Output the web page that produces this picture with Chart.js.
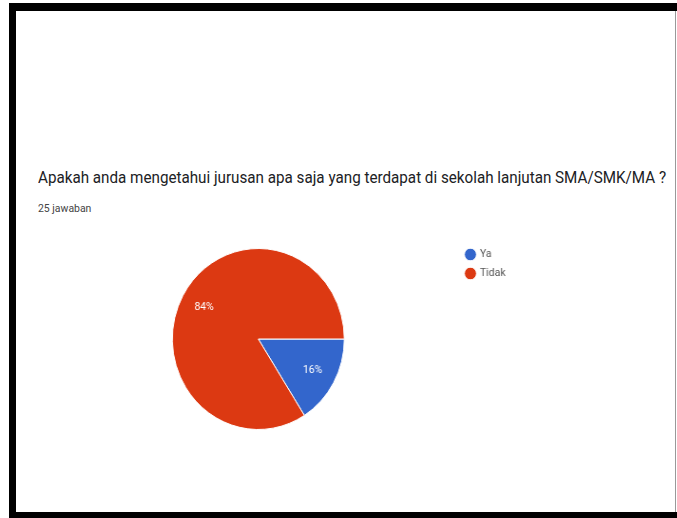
<!DOCTYPE html>
<html>
<head>
<meta charset="utf-8">
<script src="https://cdn.jsdelivr.net/npm/chart.js@4"></script>
<style>
  body { margin: 0; background: #fff; width: 677px; height: 518px; position: relative; overflow: hidden; font-family: Roboto, sans-serif; }
  .bar { position: absolute; background: #000; }
  .narrow { transform: scaleX(0.95); transform-origin: 0 0; }
  #title { position: absolute; left: 38px; top: 168px; font-size: 16px; color: #202124; white-space: nowrap; }
  #sub { position: absolute; left: 38px; top: 202px; font-size: 11px; color: #444; }
  #wrap { position: absolute; left: 60px; top: 248px; width: 477px; height: 182px; }
</style>
</head>
<body>
<div class="bar" style="left:9px;top:3px;width:668px;height:8px"></div>
<div class="bar" style="left:9px;top:3px;width:7px;height:515px"></div>
<div class="bar" style="left:9px;top:512px;width:668px;height:6px"></div>
<div class="bar" style="left:675px;top:11px;width:1px;height:501px;background:#999"></div>

<div id="title" class="narrow">Apakah anda mengetahui jurusan apa saja yang terdapat di sekolah lanjutan SMA/SMK/MA ?</div>
<div id="sub" class="narrow">25 jawaban</div>
<div id="wrap" class="narrow"><canvas id="pie"></canvas></div>

<script>
const labels = ['Ya', 'Tidak'];
const counts = [4, 21];
const colors = ['#3366cc', '#dc3912'];

// percentage text inside each slice
const sliceLabels = {
  id: 'sliceLabels',
  afterDatasetsDraw(chart) {
    const ctx = chart.ctx;
    const total = counts.reduce((a, b) => a + b, 0);
    chart.getDatasetMeta(0).data.forEach((arc, i) => {
      const p = arc.getProps(['x', 'y', 'startAngle', 'endAngle', 'outerRadius']);
      const mid = (p.startAngle + p.endAngle) / 2;
      const r = p.outerRadius * 0.72;
      ctx.save();
      ctx.fillStyle = '#fff';
      ctx.font = '11px Roboto';
      ctx.textAlign = 'center';
      ctx.textBaseline = 'middle';
      ctx.fillText(Math.round(counts[i] / total * 100) + '%', p.x + Math.cos(mid) * r, p.y + Math.sin(mid) * r);
      ctx.restore();
    });
  }
};

// pull the legend up a little so it sits level with the top of the pie
const legendNudge = {
  id: 'legendNudge',
  afterLayout(chart) {
    chart.legend.top -= 7;
    chart.legend.bottom -= 7;
    chart.legend.left += 2;
    chart.legend.right += 2;
  }
};

new Chart(document.getElementById('pie'), {
  type: 'pie',
  data: {
    labels: labels,
    datasets: [{
      data: counts,
      backgroundColor: colors,
      borderColor: '#fff',
      borderWidth: 1
    }]
  },
  options: {
    responsive: true,
    maintainAspectRatio: false,
    animation: false,
    rotation: 90,
    layout: { padding: 0 },
    plugins: {
      tooltip: { enabled: false },
      legend: {
        position: 'right',
        align: 'start',
        labels: {
          usePointStyle: true,
          pointStyle: 'circle',
          boxWidth: 9,
          boxHeight: 9,
          padding: 8,
          color: '#555',
          font: { family: 'Roboto', size: 11 }
        }
      }
    }
  },
  plugins: [sliceLabels, legendNudge]
});
</script>
</body>
</html>
